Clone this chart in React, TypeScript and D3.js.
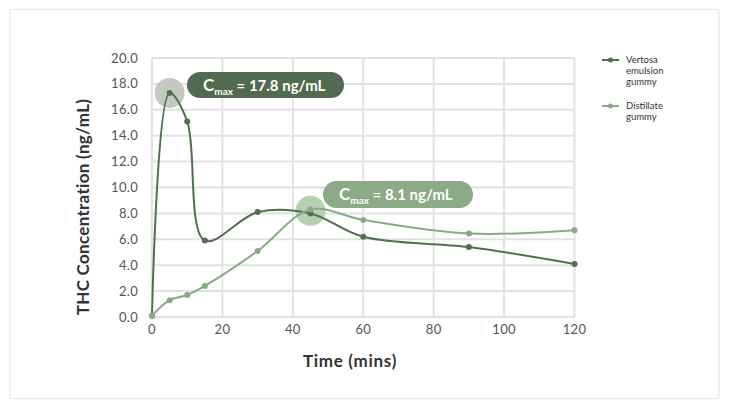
import * as d3 from "d3";

// sampling times (mins) and concentrations (ng/mL)
const times = [0, 5, 10, 15, 30, 45, 60, 90, 120];
const vertosa = [0.1, 17.3, 15.1, 5.9, 8.1, 8.0, 6.2, 5.4, 4.1];
const distillate = [0.1, 1.3, 1.7, 2.4, 5.1, 8.3, 7.5, 6.45, 6.7];

const xTicks = [0, 20, 40, 60, 80, 100, 120];
const yTicks = [0, 2, 4, 6, 8, 10, 12, 14, 16, 18, 20];

const seriesNames = [["Vertosa", "emulsion", "gummy"], ["Distillate", "gummy"]];
const cmaxLabels = ["17.8 ng/mL", "8.1 ng/mL"];

const DARK = "#51704e";
const LIGHT = "#88ab84";
const FONT = "Lato, 'Noto Sans', sans-serif";

export default function App() {
  const W = 731;
  const H = 409;
  const x = d3.scaleLinear().domain([0, 120]).range([152, 574.5]);
  const y = d3.scaleLinear().domain([0, 20]).range([317, 58]);

  const line = d3
    .line<number>()
    .x((_, i) => x(times[i]))
    .y((v) => y(v))
    .curve(d3.curveCatmullRom.alpha(0.5));

  const series = [
    { values: vertosa, color: DARK },
    { values: distillate, color: LIGHT },
  ];

  return (
    <svg
      width={W}
      height={H}
      style={{ position: "absolute", left: 0, top: 0 }}
      fontFamily={FONT}
    >
      <rect x={0} y={0} width={W} height={H} fill="#fff" />
      <rect x={10} y={9.5} width={709} height={389} fill="none" stroke="#ececec" strokeWidth={1.5} />

      {/* grid */}
      <g stroke="#e2e2e2" strokeWidth={2}>
        {xTicks.map((t) => (
          <line key={"gx" + t} x1={x(t)} x2={x(t)} y1={y(20)} y2={y(0)} />
        ))}
        {yTicks.map((t) => (
          <line key={"gy" + t} x1={x(0)} x2={x(120)} y1={y(t)} y2={y(t)} />
        ))}
      </g>

      {/* tick labels */}
      <g fill="#555" fontSize={13} letterSpacing={0.3}>
        {yTicks.map((t) => (
          <text key={"ty" + t} x={138} y={y(t) + 4.5} textAnchor="end">
            {t.toFixed(1)}
          </text>
        ))}
        {xTicks.map((t) => (
          <text key={"tx" + t} x={x(t)} y={334} textAnchor="middle">
            {t}
          </text>
        ))}
      </g>

      {/* axis titles */}
      <text x={350} y={367} textAnchor="middle" fontSize={17} fontWeight="bold" fill="#333" letterSpacing={0.7}>
        Time (mins)
      </text>
      <text
        transform="translate(89,207) rotate(-90)"
        textAnchor="middle"
        fontSize={17}
        fontWeight="bold"
        fill="#333"
        letterSpacing={0.3}
      >
        THC Concentration (ng/mL)
      </text>

      {/* highlight circles at Cmax */}
      <circle cx={x(5)} cy={y(17.3)} r={15} fill="#c4c9c1" />
      <circle cx={x(45)} cy={y(8.2)} r={15} fill="#b7cfb3" />

      {/* lines */}
      {series.map((s, si) => (
        <g key={"s" + si}>
          <path d={line(s.values) || ""} fill="none" stroke={s.color} strokeWidth={2} />
          {s.values.map((v, i) => (
            <circle key={i} cx={x(times[i])} cy={y(v)} r={3} fill={s.color} />
          ))}
        </g>
      ))}

      {/* Cmax pills */}
      {[
        { px: 187, py: 72, w: 157, h: 26, color: "#526a4f", label: cmaxLabels[0] },
        { px: 323, py: 181, w: 150, h: 27, color: "#8aab86", label: cmaxLabels[1] },
      ].map((p, i) => (
        <g key={"p" + i}>
          <rect x={p.px} y={p.py} width={p.w} height={p.h} rx={p.h / 2} fill={p.color} />
          <text x={p.px + 16} y={p.py + 19} fill="#fff" fontWeight="bold" fontSize={17}>
            C
            <tspan fontSize={10} dy={4}>max</tspan>
            <tspan fontSize={15} dy={-4}>{" = " + p.label}</tspan>
          </text>
        </g>
      ))}

      {/* legend */}
      {seriesNames.map((names, i) => {
        const ly = i === 0 ? 60 : 106;
        const c = series[i].color;
        return (
          <g key={"l" + i}>
            <line x1={602} x2={619} y1={ly} y2={ly} stroke={c} strokeWidth={2} />
            <circle cx={610.5} cy={ly} r={2.5} fill={c} />
            {names.map((n, j) => (
              <text key={j} x={626} y={ly + 3 + j * 11} fontSize={9.5} fill="#333">
                {n}
              </text>
            ))}
          </g>
        );
      })}
    </svg>
  );
}
